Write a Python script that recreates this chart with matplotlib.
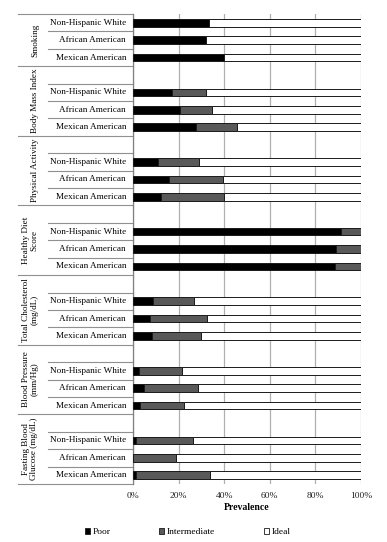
import numpy as np
import matplotlib
matplotlib.use("Agg")
import matplotlib.pyplot as plt
from matplotlib.patches import Patch
from matplotlib.ticker import PercentFormatter

plt.rcParams['font.family'] = ['Liberation Serif', 'DejaVu Serif']

# ---------------------- data ----------------------
groups = ["Smoking", "Body Mass Index", "Physical Activity", "Healthy Diet\nScore",
          "Total Cholesterol\n(mg/dL)", "Blood Pressure\n(mm/Hg)", "Fasting Blood\nGlucose (mg/dL)"]
races = ["Non-Hispanic White", "African American", "Mexican American"]

poor = [33.5, 32.0, 39.8, 17.3, 20.8, 27.8, 11.1, 15.8, 12.4, 91.3, 89.0, 88.4,
        8.9, 7.3, 8.5, 2.6, 5.0, 3.1, 1.3, 0.0, 1.2]
intermediate = [0, 0, 0, 14.7, 13.9, 17.6, 17.7, 23.6, 27.4, 8.7, 11.0, 11.6,
                17.7, 25.1, 21.2, 18.8, 23.3, 19.3, 24.9, 19.0, 32.5]
ideal = [66.5, 68.0, 60.2, 68.0, 65.3, 54.6, 71.2, 60.6, 60.2, 0, 0, 0,
         73.4, 67.6, 70.3, 78.6, 71.7, 77.6, 73.8, 81.0, 66.3]

# ---------------------- row layout ----------------------
# first group has 3 rows, every other group has a blank row on top
ypos = []
group_bounds = [-0.5]
row = 0
for g in range(len(groups)):
    if g > 0:
        row += 1  # blank slot
    for r in range(len(races)):
        ypos.append(row)
        row += 1
    group_bounds.append(row - 0.5)
ypos = np.array(ypos)
n_rows = row

fig = plt.figure(figsize=(3.87, 5.42), dpi=100)
ax = fig.add_axes([133 / 387, 58 / 542, 228 / 387, 470 / 542])

poor = np.array(poor)
intermediate = np.array(intermediate)
ideal = np.array(ideal)

h = 0.44
kw = dict(height=h, edgecolor='#1a1a1a', linewidth=0.7, zorder=3)
ax.barh(ypos, poor, color='black', **kw)
ax.barh(ypos, intermediate, left=poor, color='#595959', **kw)
ax.barh(ypos, ideal, left=poor + intermediate, color='white', **kw)

ax.set_xlim(0, 100)
ax.set_ylim(n_rows - 0.5, -0.5)
ax.set_xticks(np.arange(0, 101, 20))
ax.xaxis.set_major_formatter(PercentFormatter(decimals=0))
ax.tick_params(axis='x', length=0, labelsize=6.8, pad=6, labelcolor='#222222')
ax.set_yticks([])
ax.grid(axis='x', color='#b0b0b0', linewidth=0.9, zorder=0)
for s in ['top', 'right', 'bottom']:
    ax.spines[s].set_visible(False)
ax.spines['left'].set_color('#808080')
ax.spines['left'].set_linewidth(0.9)
ax.set_xlabel("Prevalence", fontsize=7, fontweight='bold', labelpad=2)

trans = ax.get_yaxis_transform()
x_group = (18 - 133) / 228
x_cat = (48 - 133) / 228

# category labels and separators
for y, lab in zip(ypos, races * len(groups)):
    ax.text(-7 / 228, y, lab, transform=trans, ha='right', va='center', fontsize=6.6)
for g in range(len(groups)):
    top, bot = group_bounds[g], group_bounds[g + 1]
    ax.plot([x_group, 0], [top, top], transform=trans, color='#909090', lw=0.8, clip_on=False)
    for b in np.arange(top + 1, bot, 1.0):
        ax.plot([x_cat, 0], [b, b], transform=trans, color='#909090', lw=0.8, clip_on=False)
    xc = 30 if "\n" in groups[g] else 35
    ax.text((xc - 133) / 228, (top + bot) / 2, groups[g], transform=trans, rotation=90,
            ha='center', va='center', fontsize=6.6, linespacing=1.15)
ax.plot([x_group, 0], [group_bounds[-1]] * 2, transform=trans, color='#909090', lw=0.8, clip_on=False)

handles = [Patch(facecolor='black', edgecolor='#1a1a1a', lw=0.6, label='Poor'),
           Patch(facecolor='#595959', edgecolor='#1a1a1a', lw=0.6, label='Intermediate'),
           Patch(facecolor='white', edgecolor='#1a1a1a', lw=0.6, label='Ideal')]
fig.legend(handles=handles, loc='center', bbox_to_anchor=(0.485, 1 - 532 / 542), ncol=3,
           frameon=False, fontsize=6.8, handlelength=0.55, handleheight=0.55,
           handletextpad=0.25, columnspacing=5.2)

fig.savefig("out.png", dpi=100)
